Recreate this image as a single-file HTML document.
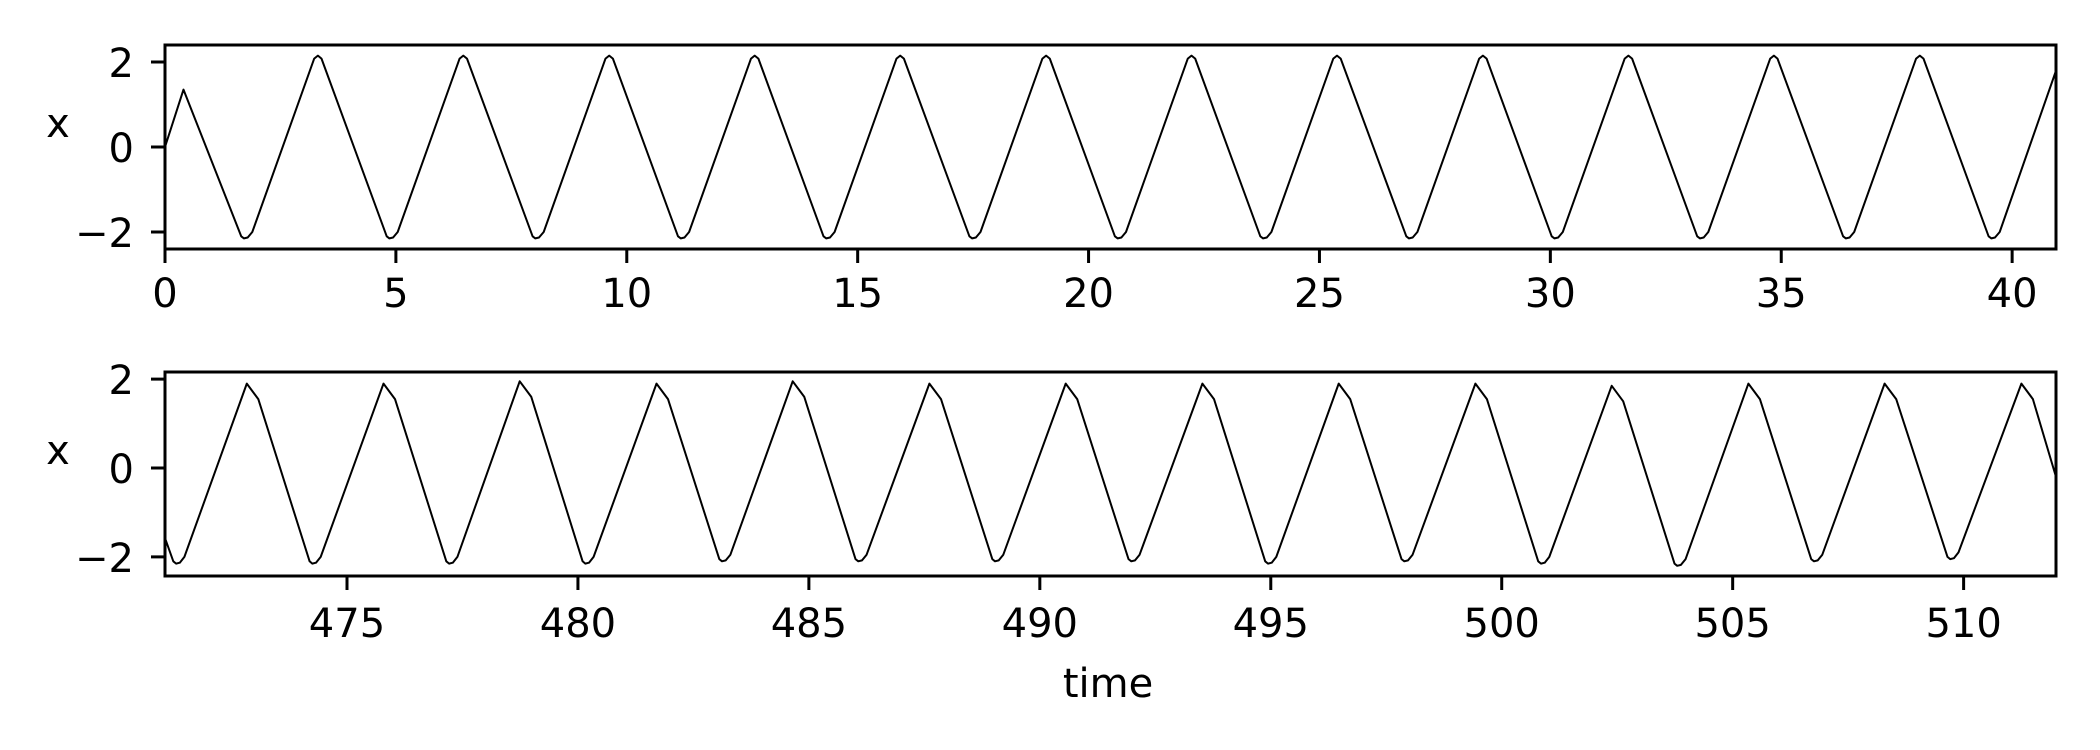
<!DOCTYPE html>
<html><head><meta charset="utf-8"><style>
html,body{margin:0;padding:0;background:#fff;}
svg{display:block;font-family:"DejaVu Sans","Liberation Sans",sans-serif;}
</style></head><body>
<svg id="chart" width="2100" height="750" viewBox="0 0 2100 750"></svg>
<script>
// Top panel data
const topPeakTimes=[3.31,6.46,9.62,12.77,15.92,19.08,22.23,25.38,28.54,31.69,34.84,38.00];
const topPeakValues=[2.15,2.15,2.15,2.15,2.15,2.15,2.15,2.15,2.15,2.15,2.15,2.15];
const topTroughTimes=[1.71,4.86,8.02,11.17,14.32,17.48,20.63,23.78,26.94,30.09,33.24,36.40,39.55];
const topTroughValues=[-2.15,-2.15,-2.15,-2.15,-2.15,-2.15,-2.15,-2.15,-2.15,-2.15,-2.15,-2.15,-2.15];
const topExtraTimes=[0,0.40,41];
const topExtraValues=[0,1.35,1.95];
const topXTicks=[0,5,10,15,20,25,30,35,40];
const topYTicks=[-2,0,2];
// Bottom panel data
const botPeakTimes=[472.83,475.79,478.74,481.70,484.65,487.61,490.56,493.52,496.47,499.43,502.38,505.34,508.29,511.25];
const botPeakValues=[1.9,1.9,1.95,1.9,1.95,1.9,1.9,1.9,1.9,1.9,1.85,1.9,1.9,1.9];
const botTroughTimes=[471.30,474.25,477.21,480.16,483.12,486.07,489.03,491.98,494.94,497.89,500.85,503.80,506.76,509.71];
const botTroughValues=[-2.15,-2.15,-2.15,-2.15,-2.1,-2.1,-2.1,-2.1,-2.15,-2.1,-2.15,-2.2,-2.1,-2.05];
const botExtraTimes=[471.0,512.0];
const botExtraValues=[-1.4,-0.2];
const botXTicks=[475,480,485,490,495,500,505,510];
const botYTicks=[-2,0,2];

const NS="http://www.w3.org/2000/svg";
const svg=document.getElementById('chart');
function mk(tag,attrs,parent){const e=document.createElementNS(NS,tag);for(const k in attrs)e.setAttribute(k,attrs[k]);(parent||svg).appendChild(e);return e;}

function panel(cfg){
  const {L,R,T,B,xmin,xmax,ymin,ymax}=cfg;
  const sx=v=>L+(v-xmin)/(xmax-xmin)*(R-L);
  const sy=v=>B-(v-ymin)/(ymax-ymin)*(B-T);
  const g=mk('g',{});
  
  
  // build vertices
  let pts=[];
  cfg.peaksT.forEach((t,i)=>{const v=cfg.peaksV[i];
    if(cfg.kink){pts.push([t,v]);pts.push([t+0.25,v-0.35]);}
    else{pts.push([t-0.08,v-0.07]);pts.push([t,v]);pts.push([t+0.08,v-0.07]);}});
  cfg.troughsT.forEach((t,i)=>{const v=cfg.troughsV[i];
    pts.push([t-0.06,v+0.05]);pts.push([t,v]);pts.push([t+0.08,v+0.02]);pts.push([t+0.18,v+0.15]);});
  cfg.extraT.forEach((t,i)=>pts.push([t,cfg.extraV[i]]));
  pts.sort((a,b)=>a[0]-b[0]);
  const cp=mk('clipPath',{id:cfg.name+'-clip'},g);
  mk('rect',{x:L,y:T,width:R-L,height:B-T},cp);
  const line=mk('polyline',{points:pts.map(p=>sx(p[0]).toFixed(1)+','+sy(p[1]).toFixed(1)).join(' '),fill:'none',stroke:'#000','stroke-width':2,'stroke-linejoin':'round','clip-path':'url(#'+cfg.name+'-clip)'},g);
  
  
  const frame=mk('rect',{x:L,y:T,width:R-L,height:B-T,fill:'none',stroke:'#000','stroke-width':3},g);
  
  
  cfg.xticks.forEach(v=>{const x=sx(v);
    const tk=mk('line',{x1:x,x2:x,y1:B,y2:B+14,stroke:'#000','stroke-width':3},g);
    
    
    const tl=mk('text',{x:x,y:cfg.xlabY,'font-size':40,'text-anchor':'middle'},g);
    tl.textContent=String(v);
    
    
  });
  cfg.yticks.forEach(v=>{const y=sy(v);
    const tk=mk('line',{x1:L-14,x2:L,y1:y,y2:y,stroke:'#000','stroke-width':3},g);
    
    
    const tl=mk('text',{x:134,y:y+15,'font-size':40,'text-anchor':'end'},g);
    tl.textContent=v<0?'\u2212'+Math.abs(v):String(v);
    
    
  });
  const yl=mk('text',{x:58,y:(T+B)/2-10,'font-size':40,'text-anchor':'middle'},g);
  yl.textContent='x';
  
  
}
panel({name:'top-panel',L:165,R:2056,T:45,B:249,xmin:0,xmax:40.95,ymin:-2.4,ymax:2.4,
  peaksT:topPeakTimes,peaksV:topPeakValues,troughsT:topTroughTimes,troughsV:topTroughValues,
  extraT:topExtraTimes,extraV:topExtraValues,xticks:topXTicks,yticks:topYTicks,xlabY:307,kink:false});
panel({name:'bottom-panel',L:165,R:2056,T:372,B:576,xmin:471.06,xmax:512.0,ymin:-2.43,ymax:2.16,
  peaksT:botPeakTimes,peaksV:botPeakValues,troughsT:botTroughTimes,troughsV:botTroughValues,
  extraT:botExtraTimes,extraV:botExtraValues,xticks:botXTicks,yticks:botYTicks,xlabY:637,kink:true});
const xt=mk('text',{x:1108,y:697,'font-size':40,'text-anchor':'middle'});
xt.textContent='time';


</script>
</body></html>
